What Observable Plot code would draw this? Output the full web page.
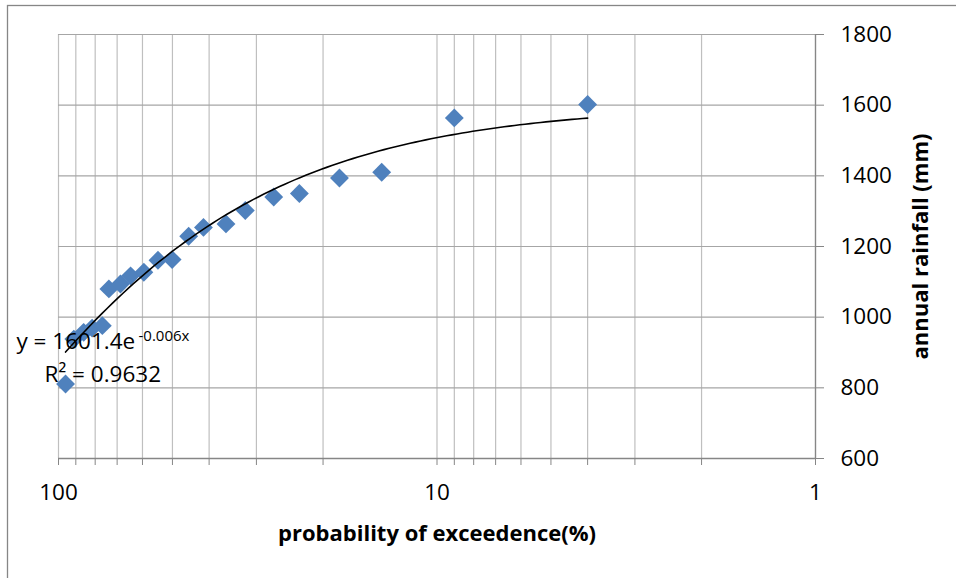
<!DOCTYPE html>
<html>
<head>
<meta charset="utf-8">
<script src="https://cdn.jsdelivr.net/npm/d3@7"></script>
<script src="https://cdn.jsdelivr.net/npm/@observablehq/plot@0.6"></script>
<style>
  html, body { margin: 0; padding: 0; background: #fff; }
  #chart { width: 956px; height: 578px; }
</style>
</head>
<body>
<div id="chart"></div>
<script>
// Data
const exceedance = [95.8, 91.1, 85.8, 81.5, 76.6, 73.6, 68.6, 64.5, 59.5, 54.6, 50.1, 45.3, 41.4, 36.1, 32.1, 27.0, 23.1, 18.1, 14.0, 9.0, 4.0];
const rainfall   = [811, 938, 957, 969, 976, 1080, 1094, 1117, 1127, 1161, 1163, 1229, 1254, 1264, 1302, 1340, 1350, 1394, 1410, 1564, 1602];

// Trendline coefficients shown on the chart: y = a * e^(b x)
const trendA = 1601.4;
const trendB = -0.006;
const eqText = "y = 1601.4e";
const eqSup = "-0.006x";
const r2Text = "R² = 0.9632";

// Axis ticks
const xGridTicks = [100, 90, 80, 70, 60, 50, 40, 30, 20, 10, 9, 8, 7, 6, 5, 4, 3, 2, 1];
const xLabelTicks = [100, 10, 1];
const yTicks = [600, 800, 1000, 1200, 1400, 1600, 1800];

const points = exceedance.map((p, i) => ({p, r: rainfall[i]}));

// Trendline sampled over the data range
const xMin = d3.min(exceedance), xMax = d3.max(exceedance);
const trend = d3.range(0, 101).map(i => {
  const x = Math.exp(Math.log(xMax) + (Math.log(xMin) - Math.log(xMax)) * i / 100);
  return {p: x, r: trendA * Math.exp(trendB * x)};
});

const font = "'Open Sans', 'Noto Sans', sans-serif";

const chart = Plot.plot({
  width: 956,
  height: 578,
  marginLeft: 58,
  marginRight: 141,
  marginTop: 34,
  marginBottom: 120,
  style: {fontFamily: font, fontSize: "22px", color: "#000", background: "#fff", overflow: "visible"},
  x: {type: "log", domain: [100, 1]},
  y: {domain: [600, 1800]},
  marks: [
    Plot.gridX(xGridTicks, {stroke: "#bfbfbf", strokeOpacity: 1, strokeWidth: 1.2}),
    Plot.gridY(yTicks, {stroke: "#a6a6a6", strokeOpacity: 1, strokeWidth: 1.2}),
    Plot.ruleY([600], {stroke: "#868686", strokeWidth: 1.3}),
    Plot.ruleX([1], {stroke: "#868686", strokeWidth: 1.3}),
    Plot.axisX(xGridTicks, {anchor: "bottom", tickSize: 7, tickFormat: () => "", stroke: "#868686", label: null}),
    Plot.axisX(xLabelTicks, {anchor: "bottom", tickSize: 0, tickPadding: 26, tickFormat: d => String(d), fontSize: 22.5, label: null}),
    Plot.axisY(yTicks, {anchor: "right", tickSize: 8, tickFormat: () => "", stroke: "#868686", label: null}),
    Plot.axisY(yTicks, {anchor: "right", tickSize: 0, tickPadding: 25, tickFormat: d => String(d), fontSize: 22.5, label: null}),
    Plot.text(["probability of exceedence(%)"], {frameAnchor: "bottom", dy: 75, textAnchor: "middle", lineAnchor: "middle", fontWeight: "bold", fontSize: 22, fill: "#000"}),
    Plot.text(["annual rainfall (mm)"], {frameAnchor: "right", dx: 105, rotate: -90, textAnchor: "middle", lineAnchor: "middle", fontWeight: "bold", fontSize: 22, fill: "#000"}),
    Plot.dot(points, {x: "p", y: "r", symbol: "diamond2", r: 8.5, fill: "#4f81bd", stroke: null}),
    Plot.line(trend, {x: "p", y: "r", stroke: "#000", strokeWidth: 1.6}),
    Plot.text([eqText], {frameAnchor: "left", dx: -42, dy: 102, textAnchor: "start", lineAnchor: "bottom", fontSize: 22.5, fill: "#000"}),
    Plot.text([eqSup], {frameAnchor: "left", dx: 80, dy: 94, textAnchor: "start", lineAnchor: "bottom", fontSize: 15, fill: "#000"}),
    Plot.text([r2Text], {frameAnchor: "left", dx: -14, dy: 135, textAnchor: "start", lineAnchor: "bottom", fontSize: 22.5, fill: "#000"})
  ]
});

// Outer chart-area border (partly off-canvas, as in the reference)
d3.select(chart).insert("rect", ":first-child")
  .attr("x", 7.5).attr("y", 5.5).attr("width", 1200).attr("height", 1200)
  .attr("fill", "#fff").attr("stroke", "#868686").attr("stroke-width", 1.3);

document.getElementById("chart").appendChild(chart);
</script>
</body>
</html>
